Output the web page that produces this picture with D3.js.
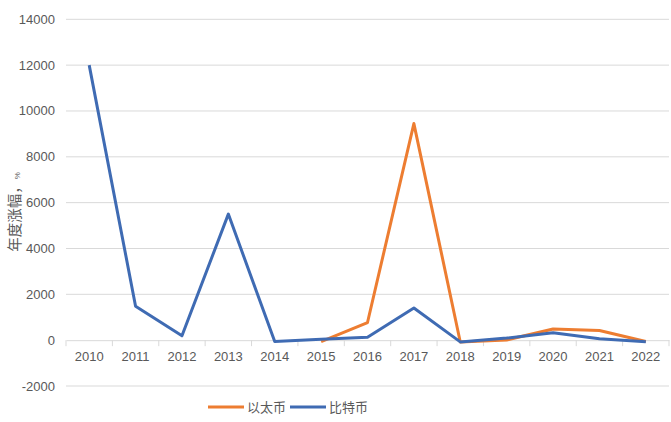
<!DOCTYPE html>
<html><head><meta charset="utf-8">
<script src="https://cdn.jsdelivr.net/npm/d3@7"></script>
<style>
body{margin:0;background:#fff;}
text{font-family:"Liberation Sans","Noto Sans CJK SC",sans-serif;fill:#595959;}
</style></head>
<body><svg id="c" width="671" height="422"></svg>
<script>
const years = ["2010","2011","2012","2013","2014","2015","2016","2017","2018","2019","2020","2021","2022"];
const btc = [12000,1480,190,5500,-60,40,130,1400,-75,90,320,60,-65];
const ethYears = ["2015","2016","2017","2018","2019","2020","2021","2022"];
const eth = [-60,770,9450,-80,10,490,420,-60];
const yTicks = [-2000,0,2000,4000,6000,8000,10000,12000,14000];
const seriesNames = ["以太币","比特币"];
const colors = ["#ED7D31","#3F6BB3"];

const svg = d3.select("#c");
const x = d3.scaleBand().domain(years).range([66,669]);
const y = d3.scaleLinear().domain([-2000,14000]).range([386,19.3]);

// gridlines
svg.append("g").selectAll("line").data(yTicks.filter(d=>d!==0)).join("line")
  .attr("x1",66).attr("x2",669).attr("y1",d=>y(d)).attr("y2",d=>y(d))
  .attr("stroke","#d9d9d9").attr("stroke-width",1);

// y labels
svg.append("g").selectAll("text").data(yTicks).join("text")
  .attr("x",55).attr("y",d=>y(d)+4.5).attr("text-anchor","end")
  .attr("font-size",13).text(d=>d<0?"-"+Math.abs(d):d);

// x axis at zero
const xa = svg.append("g").attr("transform",`translate(0,${y(0)})`)
  .call(d3.axisBottom(x).tickSize(0).tickPadding(12));
xa.select(".domain").attr("stroke","#d9d9d9");
xa.selectAll("text").attr("font-size",13).attr("fill","#595959")
  .attr("font-family","Liberation Sans");
const bounds = years.map(d=>x(d)).concat([x(years[years.length-1])+x.bandwidth()]);
xa.selectAll("line.tk").data(bounds).join("line").attr("class","tk")
  .attr("x1",d=>d).attr("x2",d=>d).attr("y1",0).attr("y2",6).attr("stroke","#d9d9d9");

// lines
const cx = d=>x(d)+x.bandwidth()/2;
const line = d3.line().x(d=>cx(d[0])).y(d=>y(d[1]));
svg.append("path").datum(ethYears.map((d,i)=>[d,eth[i]])).attr("d",line)
  .attr("fill","none").attr("stroke",colors[0]).attr("stroke-width",3).attr("stroke-linejoin","round");
svg.append("path").datum(years.map((d,i)=>[d,btc[i]])).attr("d",line)
  .attr("fill","none").attr("stroke",colors[1]).attr("stroke-width",3).attr("stroke-linejoin","round");

// y title
svg.append("text").attr("transform","translate(20,212) rotate(-90)")
  .attr("text-anchor","middle").attr("font-size",14.5)
  .text("年度涨幅，").append("tspan").attr("font-size",8).text("%");

// legend
const lg = svg.append("g");
const lx = [208,290];
seriesNames.forEach((n,i)=>{
  lg.append("line").attr("x1",lx[i]).attr("x2",lx[i]+36).attr("y1",407).attr("y2",407)
    .attr("stroke",colors[i]).attr("stroke-width",3);
  lg.append("text").attr("x",lx[i]+39).attr("y",412).attr("font-size",13).text(n);
});
</script></body></html>
